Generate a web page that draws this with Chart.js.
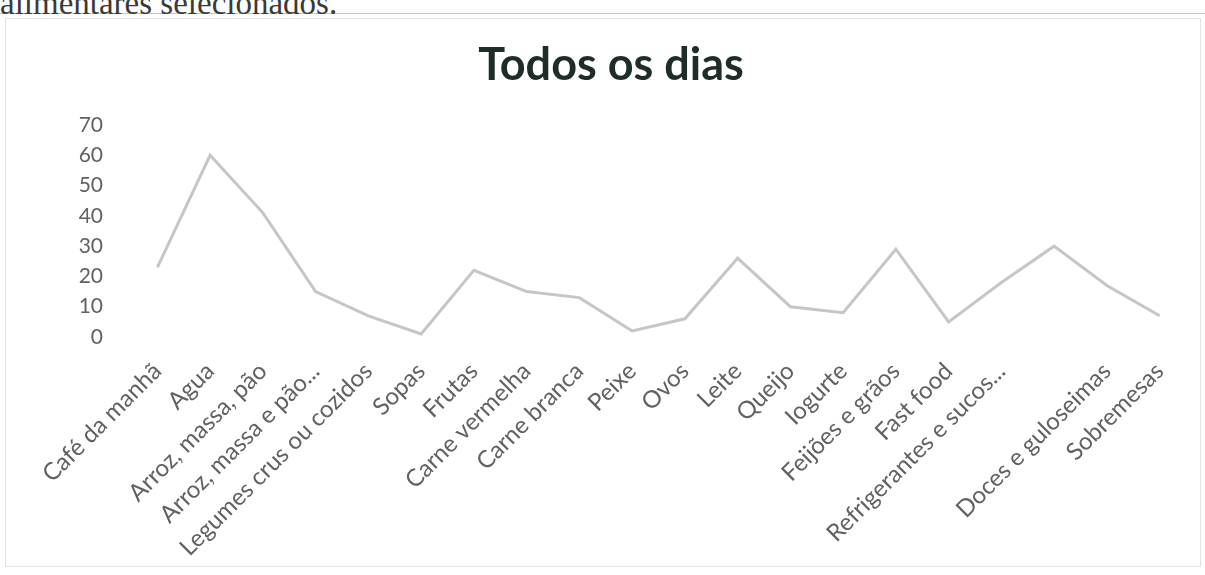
<!DOCTYPE html>
<html lang="pt">
<head>
    <meta charset="UTF-8">
    <title>Todos os dias</title>
    <script src="https://cdn.jsdelivr.net/npm/chart.js@4.4.1/dist/chart.umd.min.js"></script>
    <style>
        html, body {
            margin: 0;
            padding: 0;
            background: #ffffff;
            overflow: hidden;
        }
        .page {
            position: relative;
            width: 1205px;
            height: 575px;
            overflow: hidden;
        }
        /* linha e texto do documento cortados no topo */
        .rule {
            position: absolute;
            left: 0;
            top: 13px;
            width: 1205px;
            height: 1px;
            background: #c4c4c4;
        }
        .doc-text {
            position: absolute;
            left: 0;
            top: -13px;
            font-family: "Liberation Serif", serif;
            font-size: 33px;
            line-height: 33px;
            color: #3a3a3a;
            white-space: nowrap;
        }
        /* moldura do gráfico */
        .frame {
            position: absolute;
            left: 5px;
            top: 18px;
            width: 1196px;
            height: 549px;
            border: 1px solid #e2e2e2;
            box-sizing: border-box;
        }
        .chart-box {
            position: absolute;
            left: 0;
            top: 0;
            width: 1205px;
            height: 575px;
        }
    </style>
</head>
<body>
<div class="page">
    <div class="rule"></div>
    <div class="doc-text">alimentares selecionados.</div>
    <div class="frame"></div>
    <div class="chart-box">
        <canvas id="diasChart" width="1205" height="575"></canvas>
    </div>
</div>

<script>
    // --- Dados ---
    const categorias = [
        'Café da manhã', 'Agua', 'Arroz, massa, pão', 'Arroz, massa e pão...',
        'Legumes crus ou cozidos', 'Sopas', 'Frutas', 'Carne vermelha',
        'Carne branca', 'Peixe', 'Ovos', 'Leite', 'Queijo', 'Iogurte',
        'Feijões e grãos', 'Fast food', 'Refrigerantes e sucos...', '',
        'Doces e guloseimas', 'Sobremesas'
    ];
    const valores = [23, 60, 41, 15, 7, 1, 22, 15, 13, 2, 6, 26, 10, 8, 29, 5, 18, 30, 17, 7];
    const ticksY = [0, 10, 20, 30, 40, 50, 60, 70];

    const fonte = 'Lato, "Open Sans", sans-serif';
    const corTexto = '#616161';

    const ctx = document.getElementById('diasChart').getContext('2d');
    new Chart(ctx, {
        type: 'line',
        data: {
            labels: categorias,
            datasets: [{
                label: 'Todos os dias',
                data: valores,
                borderColor: '#c6c6c6',
                borderWidth: 3,
                pointRadius: 0,
                tension: 0,
                fill: false
            }]
        },
        options: {
            responsive: false,
            animation: false,
            layout: {
                padding: { left: 36, right: 19, top: 0, bottom: 0 }
            },
            plugins: {
                legend: { display: false },
                tooltip: { enabled: false },
                title: {
                    display: true,
                    text: 'Todos os dias',
                    color: '#1e2d29',
                    font: { family: fonte, size: 45, weight: 'bold' },
                    padding: { top: 38, bottom: 33 }
                }
            },
            scales: {
                x: {
                    offset: true,
                    grid: { display: false, drawTicks: false },
                    border: { display: false },
                    ticks: {
                        autoSkip: false,
                        minRotation: 45,
                        maxRotation: 45,
                        padding: 20,
                        color: corTexto,
                        font: { family: fonte, size: 24 }
                    },
                    afterFit: function(scale) {
                        scale.height = 575 - 337;
                    }
                },
                y: {
                    min: 0,
                    max: 70,
                    grid: { display: false, drawTicks: false },
                    border: { display: false },
                    afterBuildTicks: function(scale) {
                        scale.ticks = ticksY.map(v => ({ value: v }));
                    },
                    ticks: {
                        padding: 28,
                        color: corTexto,
                        font: { family: fonte, size: 21 }
                    },
                    afterFit: function(scale) {
                        scale.width = 95;
                    }
                }
            }
        }
    });
</script>
</body>
</html>
